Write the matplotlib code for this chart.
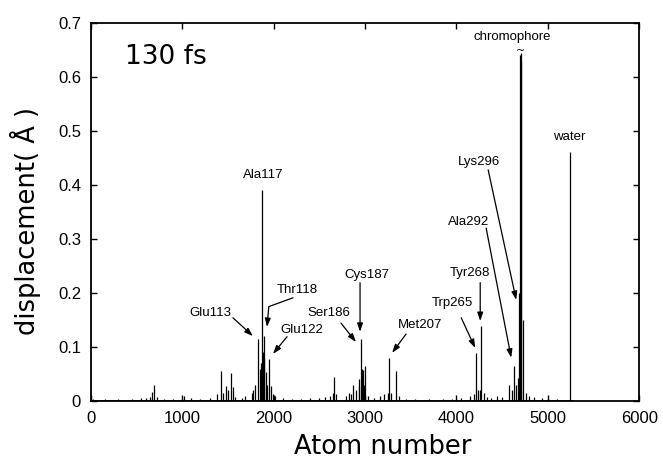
import numpy as np
import matplotlib
matplotlib.use("Agg")
import matplotlib.pyplot as plt

# peak positions (atom number) and displacement (A)
atoms = [600, 650, 670, 693, 720, 1022,
         1380, 1424, 1450, 1479, 1500, 1530, 1555, 1580, 1687,
         1760, 1778, 1800, 1826, 1851, 1862, 1876, 1884, 1892, 1900, 1913,
         1930, 1950, 1972, 1990, 2015,
         2620, 2650, 2665, 2680, 2790, 2830, 2850, 2873, 2900, 2930, 2940,
         2954, 2965, 2976, 2990, 3004, 3030,
         3165, 3210, 3250, 3267, 3285, 3344, 3370,
         4151, 4190, 4217, 4232, 4260, 4272, 4297, 4330,
         4440, 4581, 4607, 4633, 4652, 4670, 4688, 4696, 4704, 4712, 4730,
         4760, 4800, 4850, 4940,
         5246]
disp = [0.006, 0.008, 0.016, 0.029, 0.008, 0.010,
        0.012, 0.055, 0.015, 0.028, 0.020, 0.052, 0.026, 0.008, 0.010,
        0.015, 0.020, 0.030, 0.114, 0.060, 0.070, 0.390, 0.090, 0.120, 0.080, 0.053,
        0.030, 0.078, 0.028, 0.012, 0.010,
        0.010, 0.015, 0.045, 0.012, 0.010, 0.015, 0.012, 0.030, 0.020, 0.028, 0.040,
        0.114, 0.060, 0.058, 0.030, 0.064, 0.010,
        0.010, 0.012, 0.015, 0.079, 0.015, 0.056, 0.010,
        0.010, 0.012, 0.088, 0.020, 0.020, 0.138, 0.015, 0.008,
        0.010, 0.030, 0.020, 0.065, 0.030, 0.042, 0.200, 0.640, 0.645, 0.630, 0.150,
        0.015, 0.010, 0.008, 0.006,
        0.462]

# low-level background along the chain
bg_atoms = [20, 150, 300, 450, 550, 800, 900, 1100, 1200, 1300, 1650, 2100, 2200,
            2300, 2400, 2500, 2560, 3100, 3450, 3550, 3700, 3850, 3950, 4050,
            4380, 4500, 5000, 5100]
bg_disp = [0.003, 0.004, 0.003, 0.004, 0.005, 0.004, 0.003, 0.005, 0.004, 0.006,
           0.006, 0.006, 0.004, 0.004, 0.005, 0.006, 0.008, 0.006, 0.004, 0.003,
           0.004, 0.003, 0.004, 0.006, 0.005, 0.007, 0.004, 0.003]

# residue labels: text position, arrow start, arrow tip
labels = ["Glu113", "Thr118", "Glu122", "Ser186", "Cys187", "Met207",
          "Trp265", "Tyr268", "Ala292", "Lys296"]
label_xy = [(1303, 0.163), (2256, 0.206), (2311, 0.131), (2607, 0.163),
            (3023, 0.233), (3604, 0.141), (3954, 0.181), (4151, 0.237),
            (4129, 0.331), (4250, 0.443)]
arrow_from = [(1555, 0.154), (2212, 0.191), (2147, 0.119), (2738, 0.144),
              (2946, 0.219), (3450, 0.124), (4053, 0.154), (4261, 0.219),
              (4326, 0.320), (4348, 0.428)]
arrow_to = [(1774, 0.120), (1928, 0.137), (1993, 0.087), (2902, 0.109),
            (2946, 0.128), (3297, 0.089), (4206, 0.098), (4261, 0.148),
            (4600, 0.080), (4655, 0.187)]

fig = plt.figure(figsize=(6.63, 4.70), dpi=100)
ax = fig.add_axes([0.137, 0.147, 0.827, 0.804])

ax.plot([0] + bg_atoms + [5260], [0.0] * (len(bg_atoms) + 2), color="black", lw=1.8)
ax.vlines(bg_atoms, 0, bg_disp, color="black", lw=0.9)
ax.vlines(atoms, 0, disp, color="black", lw=0.9)

ax.set_xlim(0, 6000)
ax.set_ylim(0, 0.7)
ax.set_xticks(np.arange(0, 6001, 1000))
ax.set_yticks(np.arange(0, 0.71, 0.1))
ax.set_yticklabels(["0"] + ["%.1f" % v for v in np.arange(0.1, 0.71, 0.1)])
ax.tick_params(direction="in", top=True, right=True, length=4, width=1,
               labelsize=12, pad=7)
for lab in ax.get_xticklabels() + ax.get_yticklabels():
    lab.set_family("Liberation Sans")
for s in ax.spines.values():
    s.set_linewidth(1.3)

ax.set_xlabel("Atom number", fontsize=18.5, va="center")
ax.xaxis.set_label_coords(0.533, -0.122)
ax.set_ylabel("displacement( Å )", fontsize=18.5, va="center")
ax.yaxis.set_label_coords(-0.119, 0.475)

ax.text(372, 0.637, "130 fs", fontsize=19, ha="left", va="center")

lfont = dict(fontsize=9.5, family="Liberation Sans", ha="center", va="center")
ax.text(1884, 0.419, "Ala117", **lfont)
ax.text(4611, 0.674, "chromophore", **lfont)
ax.text(5235, 0.489, "water", **lfont)
ax.text(4700, 0.649, "~", fontsize=8, ha="center", va="center")

for name, xy, a0, a1 in zip(labels, label_xy, arrow_from, arrow_to):
    ax.text(xy[0], xy[1], name, **lfont)
    cs = "arc3"
    if name == "Thr118":
        cs = "angle,angleA=200,angleB=85,rad=0"
    ax.annotate("", xy=a1, xytext=a0,
                arrowprops=dict(arrowstyle="-|>,head_length=0.5,head_width=0.17",
                                color="black", lw=0.9, shrinkA=0, shrinkB=0,
                                connectionstyle=cs))

fig.savefig("out.png", dpi=100)
